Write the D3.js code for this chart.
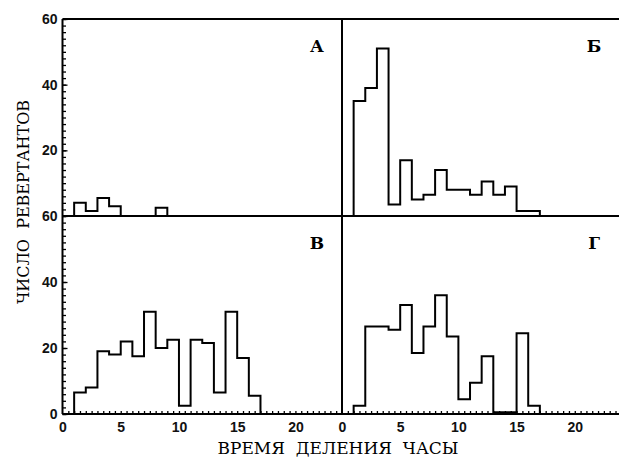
<!DOCTYPE html>
<html><head><meta charset="utf-8">
<script src="https://cdn.jsdelivr.net/npm/d3@7"></script>
<style>body{margin:0;background:#fff}svg{display:block}</style>
</head><body>
<script>
const W = 619, H = 457;
// bin start hours (each bin one hour wide)
const hours = [1,2,3,4,5,6,7,8,9,10,11,12,13,14,15,16];
const seriesA = [4,1.5,5.5,3,0,0,0,2.5,0,0,0,0,0,0,0,0];
const seriesB = [35,39,51,3.5,17,5,6.5,14,8,8,6.5,10.5,6.5,9,1.5,1.5];
const seriesC = [6.5,8,19,18,22,17.5,31,20,22.5,2.5,22.5,21.5,6.5,31,17,5.5];
const seriesD = [2.5,26.5,26.5,25.5,33,18.5,26.5,36,23.5,4.5,9.5,17.5,0.5,0.5,24.5,2.5];
const panelLabels = ["А","Б","В","Г"];
const xTickVals = [0,5,10,15,20];
const yTickTop = [20,40,60];
const yTickBot = [0,20,40,60];
const xTitle = "ВРЕМЯ\u00a0\u00a0ДЕЛЕНИЯ\u00a0\u00a0ЧАСЫ";
const yTitle = "ЧИСЛО\u00a0\u00a0РЕВЕРТАНТОВ";

const svg = d3.select("body").append("svg").attr("width", W).attr("height", H);

const xL = d3.scaleLinear().domain([0,24]).range([62.5, 342]);
const xR = d3.scaleLinear().domain([0,23.8]).range([342, 619]);
const yT = d3.scaleLinear().domain([0,60]).range([216, 19]);
const yB = d3.scaleLinear().domain([0,60]).range([414, 216]);

const panels = [
  {x:xL, y:yT, data:seriesA, label:panelLabels[0]},
  {x:xR, y:yT, data:seriesB, label:panelLabels[1]},
  {x:xL, y:yB, data:seriesC, label:panelLabels[2]},
  {x:xR, y:yB, data:seriesD, label:panelLabels[3]}
];

const numFont = "'Liberation Sans', Arial, sans-serif";
const serif = "'DejaVu Serif', 'Liberation Serif', serif";

// frame lines
const frame = svg.append("g").attr("stroke","#000").attr("stroke-width",2).attr("fill","none");
frame.append("line").attr("x1",xL(0)).attr("x2",W).attr("y1",yT(60)).attr("y2",yT(60));
frame.append("line").attr("x1",xL(0)).attr("x2",W).attr("y1",yT(0)).attr("y2",yT(0));
frame.append("line").attr("x1",xL(0)).attr("x2",W).attr("y1",yB(0)).attr("y2",yB(0));
frame.append("line").attr("x1",xL(0)).attr("x2",xL(0)).attr("y1",yT(60)).attr("y2",yB(0));
frame.append("line").attr("x1",xR(0)).attr("x2",xR(0)).attr("y1",yT(60)).attr("y2",yB(0));

function styleAxis(g){
  g.select(".domain").remove();
  g.selectAll("line").attr("stroke","#000").attr("stroke-width",1.3);
  g.selectAll("text").style("font-family",numFont).attr("font-size",14).attr("font-weight","bold").attr("fill","#111");
}

// y axes
[[yT,yTickTop],[yB,yTickBot]].forEach(([y,vals])=>{
  const minor = d3.range(0,61,2);
  svg.append("g").attr("transform",`translate(${xL(0)},0)`)
    .call(d3.axisLeft(y).tickValues(minor).tickFormat("").tickSizeInner(-3.5).tickSizeOuter(0))
    .call(styleAxis);
  svg.append("g").attr("transform",`translate(${xL(0)},0)`)
    .call(d3.axisLeft(y).tickValues(vals).tickFormat(d3.format("d")).tickSizeInner(-5).tickSizeOuter(0).tickPadding(5))
    .call(styleAxis);
});

// x axes (bottom)
[xL,xR].forEach(x=>{
  const dmax = x.domain()[1];
  svg.append("g").attr("transform",`translate(0,${yB(0)})`)
    .call(d3.axisBottom(x).tickValues(d3.range(0.5,dmax,0.5)).tickFormat("").tickSizeInner(-3).tickSizeOuter(0))
    .call(styleAxis);
  svg.append("g").attr("transform",`translate(0,${yB(0)})`)
    .call(d3.axisBottom(x).tickValues(xTickVals).tickFormat(d3.format("d")).tickSizeInner(0).tickSizeOuter(0).tickPadding(8))
    .call(styleAxis);
});

// histograms
panels.forEach(p=>{
  const pts = [[hours[0],0]];
  hours.forEach((h,i)=>{ pts.push([h,p.data[i]]); });
  pts.push([hours[hours.length-1]+1, p.data[p.data.length-1]]);
  pts.push([hours[hours.length-1]+1, 0]);
  const line = d3.line().x(d=>p.x(d[0])).y(d=>p.y(d[1])).curve(d3.curveStepAfter);
  svg.append("path").attr("d", line(pts)).attr("fill","none").attr("stroke","#000").attr("stroke-width",2).attr("stroke-linejoin","miter");
  svg.append("text").attr("x", p.x.range()[1]-25).attr("y", p.y(60)+33)
    .attr("text-anchor","middle").style("font-family",serif).attr("font-weight","bold").attr("font-size",17).text(p.label);
});

// titles
svg.append("text").attr("x",338).attr("y",454).attr("text-anchor","middle")
  .style("font-family",serif).attr("font-size",17).text(xTitle);
svg.append("text").attr("transform","translate(29,202) rotate(-90)").attr("text-anchor","middle")
  .style("font-family",serif).attr("font-size",16).text(yTitle);
</script>
</body></html>
